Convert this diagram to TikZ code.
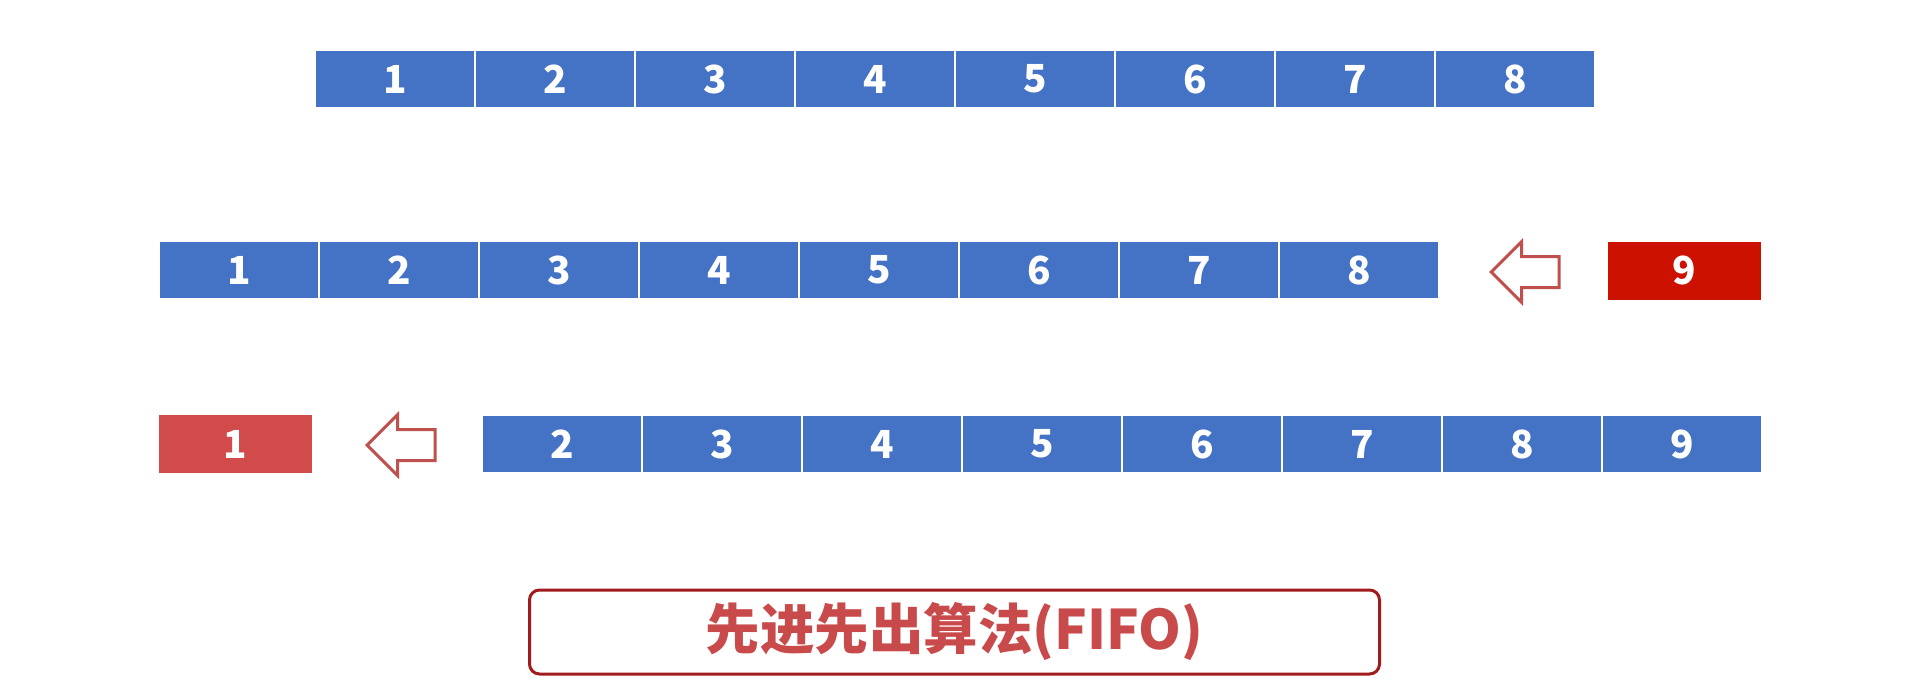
\documentclass[tikz,border=0pt]{standalone}
\usepackage{fontspec}
\setmainfont{Noto Sans CJK SC}
\usetikzlibrary{
  positioning,
  shapes.arrows
}
\definecolor{qblue}{HTML}{4472C4}
\definecolor{inred}{HTML}{CC1100}
\definecolor{outred}{HTML}{D14B4B}
\definecolor{arrred}{HTML}{C0504D}
\definecolor{titleframe}{HTML}{A01C1C}
\definecolor{titletext}{HTML}{C94A4A}

\begin{document}
\begin{tikzpicture}[
  font=\fontsize{11}{13}\selectfont\bfseries,
  cell/.style={
    rectangle, fill=qblue, draw=white, line width=0.02cm, outer sep=0pt,
    minimum width=1.6cm, minimum height=0.58cm, inner sep=0pt, text=white
  },
  redcell/.style={
    rectangle, minimum width=1.53cm, minimum height=0.58cm, inner sep=0pt, text=white
  },
  backarrow/.style={
    single arrow, shape border rotate=180, draw=arrred, fill=white,
    line width=0.03cm, inner xsep=0pt, inner ysep=0.14cm,
    minimum width=0.58cm, minimum height=0.68cm,
    single arrow head extend=0.15cm, anchor=tip
  },
  titlebox/.style={
    rectangle, rounded corners=0.1cm, draw=titleframe, line width=0.03cm,
    minimum width=8.5cm, minimum height=0.84cm, text=titletext,
    font=\fontsize{15.5}{18}\selectfont\bfseries
  },
]
\useasboundingbox (0,0) rectangle (19.2,-6.87);

% Row 1: queue full
\node[cell] (a1) at (3.95,-0.79) {1};
\foreach \i [count=\j from 1] in {2,...,8}
  \node[cell, right=0pt of a\j] (a\i) {\i};

% Row 2: page 9 comes in
\node[cell] (b1) at (2.39,-2.7) {1};
\foreach \i [count=\j from 1] in {2,...,8}
  \node[cell, right=0pt of b\j] (b\i) {\i};
\node[redcell, fill=inred] (new) at (16.845,-2.705) {9};
\node[backarrow] (inarrow) at (14.89,-2.72) {};

% Row 3: page 1 goes out
\node[cell] (c2) at (5.62,-4.44) {2};
\foreach \i [count=\j from 2] in {3,...,9}
  \node[cell, right=0pt of c\j] (c\i) {\i};
\node[redcell, fill=outred] (old) at (2.355,-4.44) {1};
\node[backarrow] (outarrow) at (3.65,-4.45) {};

% Title
\node[titlebox] (title) at (9.545,-6.32) {先进先出算法(FIFO)};

\end{tikzpicture}
\end{document}
